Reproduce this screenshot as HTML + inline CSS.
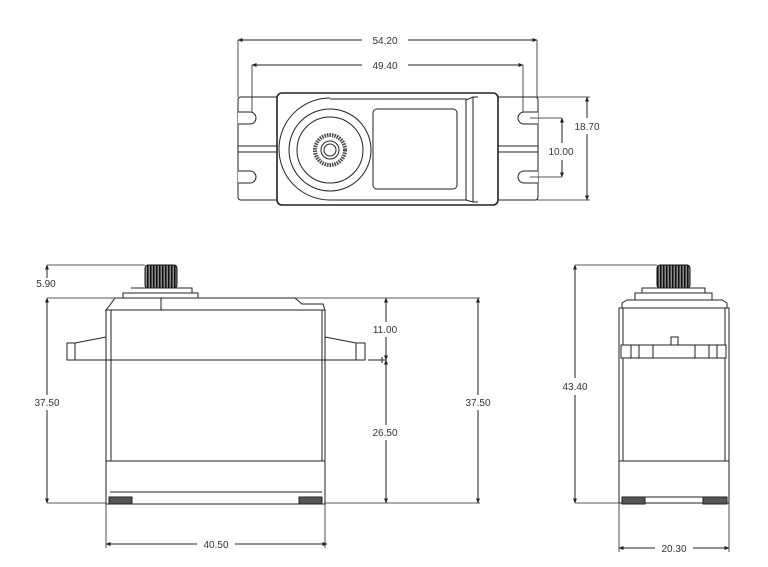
<!DOCTYPE html>
<html><head><meta charset="utf-8"><style>html,body{margin:0;padding:0;background:#fff}svg{display:block}text{font-family:"Liberation Sans",sans-serif;font-size:10px;fill:#333}</style></head><body>
<svg width="768" height="567" viewBox="0 0 768 567" xmlns="http://www.w3.org/2000/svg">
<defs>
<marker id="a" viewBox="0 0 10 10" refX="9" refY="5" markerWidth="5" markerHeight="5" orient="auto-start-reverse"><path d="M0,1 L10,5 L0,9 z" fill="#222"/></marker>
<pattern id="k" width="3" height="4" patternUnits="userSpaceOnUse"><rect width="3" height="4" fill="#888"/><rect width="1.5" height="4" fill="#111"/></pattern>
</defs>
<g fill="none" stroke="#222" stroke-width="1">
<!-- TOP VIEW -->
<path d="M238,40 V97 M537,40 V97 M252,65 V118 M523,65 V118" stroke-width="0.8"/>
<line x1="238" y1="40" x2="362" y2="40" marker-start="url(#a)"/><line x1="408" y1="40" x2="537" y2="40" marker-end="url(#a)"/>
<line x1="252" y1="65" x2="362" y2="65" marker-start="url(#a)"/><line x1="408" y1="65" x2="523" y2="65" marker-end="url(#a)"/>
<path d="M241,97 H535 Q538,97 538,100 V197 Q538,200 535,200 H241 Q238,200 238,197 V100 Q238,97 241,97Z"/>
<path d="M238,146 H277 M238,152 H277 M498,146 H538 M498,152 H538"/>
<g fill="#fff">
<path d="M238,112 H250 A6,6 0 1 1 250,124 H238"/>
<path d="M238,171 H250 A6,6 0 1 1 250,183 H238"/>
<path d="M538,112 H524 A6,6 0 1 0 524,124 H538"/>
<path d="M538,171 H524 A6,6 0 1 0 524,183 H538"/>
</g>
<rect x="277" y="93" width="221" height="112" rx="5" fill="#fff" stroke-width="1.6"/>
<path d="M330,99 H466 V200 H330"/>
<path d="M330,98 A51,51 0 0 0 330,200"/>
<path d="M466,100 L473,97 V202 L466,200 M473,97 H478 M473,202 H478"/>
<circle cx="330" cy="150" r="41"/>
<circle cx="330" cy="150" r="33"/>
<circle cx="330" cy="150" r="15" stroke="#444" stroke-width="4" stroke-dasharray="1.5 1"/>
<circle cx="330" cy="150" r="9"/>
<circle cx="330" cy="150" r="6"/>
<rect x="373" y="109" width="84" height="80" rx="4"/>
<path d="M537,97 H590 M537,200 H590 M530,118 H562 M530,177 H562" stroke-width="0.8"/>
<line x1="587" y1="97" x2="587" y2="118" marker-start="url(#a)"/><line x1="587" y1="134" x2="587" y2="200" marker-end="url(#a)"/>
<line x1="562" y1="118" x2="562" y2="143" marker-start="url(#a)"/><line x1="562" y1="160" x2="562" y2="177" marker-end="url(#a)"/>

<!-- FRONT VIEW -->
<path d="M47,265 H145 M47,298 H385 M47,503 H480 M298,298 H480" stroke-width="0.8"/>
<line x1="47" y1="278" x2="47" y2="265" marker-end="url(#a)"/>
<line x1="47" y1="298" x2="47" y2="395" marker-start="url(#a)"/><line x1="47" y1="410" x2="47" y2="503" marker-end="url(#a)"/>
<line x1="386" y1="298" x2="386" y2="322" marker-start="url(#a)"/><line x1="386" y1="337" x2="386" y2="360" marker-end="url(#a)"/>
<line x1="386" y1="360" x2="386" y2="425" marker-start="url(#a)"/><line x1="386" y1="440" x2="386" y2="503" marker-end="url(#a)"/>
<path d="M368,360 H386 M382,357 V363"/>
<line x1="478" y1="298" x2="478" y2="395" marker-start="url(#a)"/><line x1="478" y1="410" x2="478" y2="503" marker-end="url(#a)"/>
<rect x="145" y="265" width="32" height="23" rx="3" fill="url(#k)" stroke="#111"/>
<path d="M131,288 H192 V293 M123,293 H198 V298 H123Z" fill="#fff"/>
<path d="M110,305 L115,298 H295 L302,304 H323 L325,310 H106 L110,305Z" fill="#fff"/>
<path d="M161,298 V310"/>
<rect x="106" y="310" width="219" height="194" fill="#fff"/>
<path d="M111,310 V461 M322,310 V461 M106,461 H325 M110,492 H322"/>
<path d="M106,337 L75,343 H67 V360 H106 M75,343 V360"/>
<path d="M325,337 L356,343 H365 V360 H325 M356,343 V360"/>
<path d="M67,360 H365"/>
<rect x="109" y="497" width="23" height="7" fill="#555"/><rect x="299" y="497" width="23" height="7" fill="#555"/>
<path d="M106,503 V548 M325,503 V548" stroke-width="0.8"/>
<line x1="106" y1="544" x2="197" y2="544" marker-start="url(#a)"/><line x1="235" y1="544" x2="327" y2="544" marker-end="url(#a)"/>

<!-- SIDE VIEW -->
<path d="M575,265 H657 M575,503 H622 M619,503 V552 M729,503 V552" stroke-width="0.8"/>
<line x1="575" y1="265" x2="575" y2="378" marker-start="url(#a)"/><line x1="575" y1="395" x2="575" y2="503" marker-end="url(#a)"/>
<line x1="619" y1="548" x2="655" y2="548" marker-start="url(#a)"/><line x1="693" y1="548" x2="729" y2="548" marker-end="url(#a)"/>
<rect x="657" y="265" width="33" height="23" rx="3" fill="url(#k)" stroke="#111"/>
<path d="M642,288 H705 V293 H642Z M635,293 H712 V300 H635Z" fill="#fff"/>
<path d="M622,308 V303 L627,300 H722 L727,303 V308" fill="#fff"/>
<rect x="619" y="308" width="110" height="195" fill="#fff"/>
<path d="M623,308 V461 M725,308 V461 M619,461 H729 M622,497 H727"/>
<rect x="621" y="345" width="105" height="13" fill="#fff"/>
<path d="M631,345 V358 M639,345 V358 M653,345 V358 M695,345 V358 M709,345 V358 M717,345 V358"/>
<rect x="671" y="337" width="7" height="8"/>
<rect x="622" y="497" width="23" height="7" fill="#555"/><rect x="703" y="497" width="24" height="7" fill="#555"/>
</g>
<text x="385" y="44" text-anchor="middle">54.20</text>
<text x="385" y="69" text-anchor="middle">49.40</text>
<text x="587" y="130" text-anchor="middle">18.70</text>
<text x="561" y="155" text-anchor="middle">10.00</text>
<text x="46" y="287" text-anchor="middle">5.90</text>
<text x="47" y="406" text-anchor="middle">37.50</text>
<text x="385" y="333" text-anchor="middle">11.00</text>
<text x="385" y="436" text-anchor="middle">26.50</text>
<text x="478" y="406" text-anchor="middle">37.50</text>
<text x="216" y="548" text-anchor="middle">40.50</text>
<text x="575" y="390" text-anchor="middle">43.40</text>
<text x="674" y="552" text-anchor="middle">20.30</text>
</svg>
</body></html>
